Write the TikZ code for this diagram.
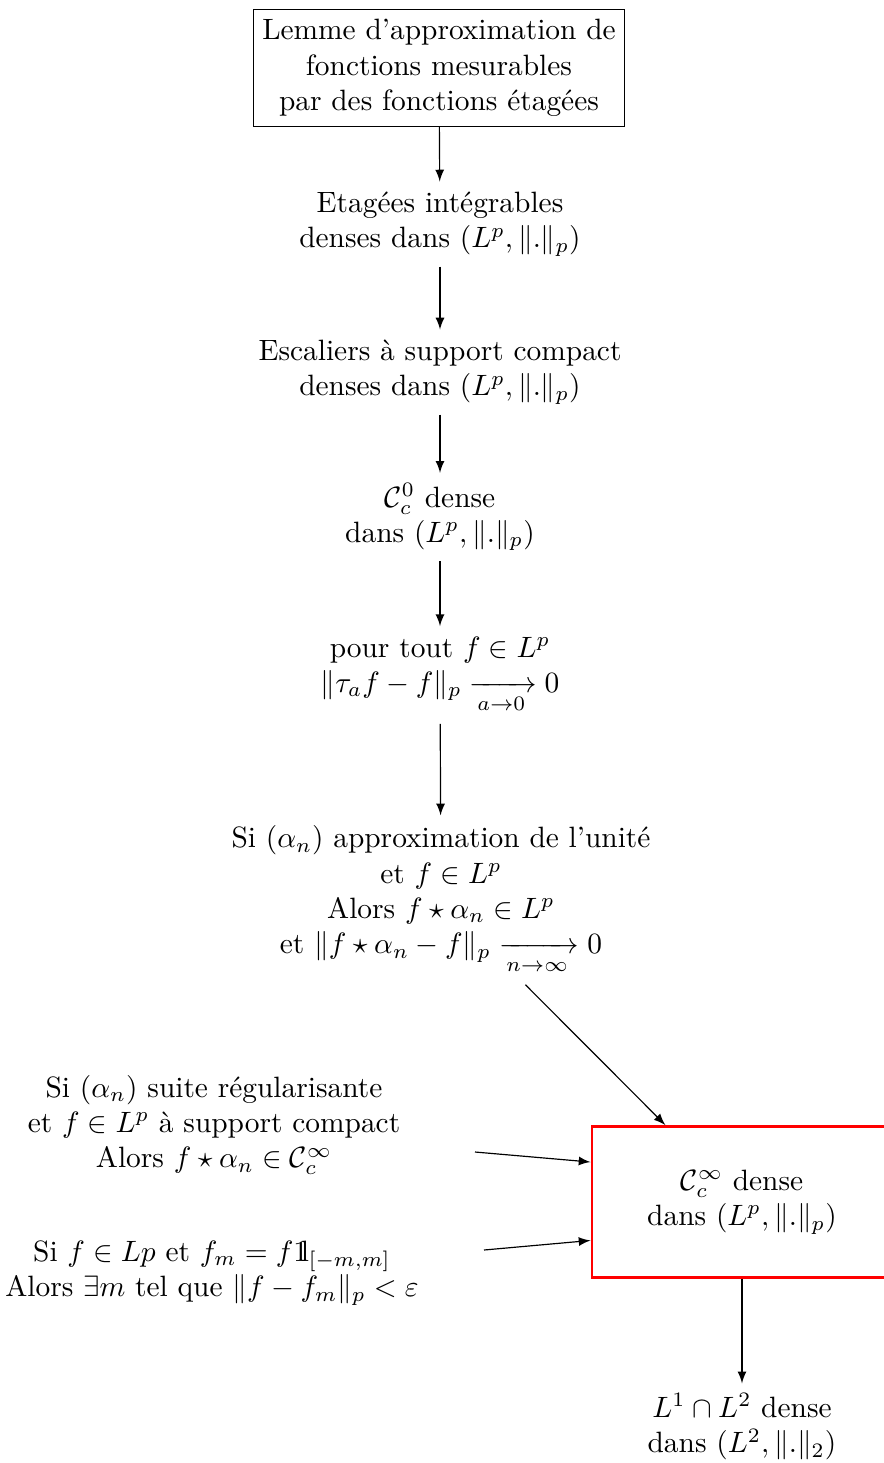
\documentclass[tikz,border=0pt]{standalone}
\usepackage{amsmath,amssymb}
\usetikzlibrary{calc}
\newcommand{\myindic}{\mathrm{1\hspace{-2.5pt}l}}
\begin{document}
\begin{tikzpicture}[x=0.34pt,y=-0.34pt,
  txt/.style={align=center},
  arr/.style={-latex,line width=0.4pt},
  redbox/.style={draw=red,line width=1pt,minimum width=102pt,minimum height=51.3pt,align=center}]
\useasboundingbox (0,0) rectangle (883,1463);
\node[txt,draw,inner xsep=3pt] (n1) at (439,68) {Lemme d'approximation de\\fonctions mesurables\\par des fonctions étagées};
\node[txt] (n2) at (440,224) {Etagées intégrables\\denses dans $(L^p,\|.\|_p)$};
\node[txt] (n3) at (440,372) {Escaliers à support compact\\denses dans $(L^p,\|.\|_p)$};
\node[txt] (n4) at (440,517) {$\mathcal{C}_c^0$ dense\\dans $(L^p,\|.\|_p)$};
\node[txt] (n5) at (440,675) {pour tout $f\in L^p$\\$\|\tau_a f-f\|_p\xrightarrow[a\to 0]{}0$};
\node[txt] (n6) at (441,900) {Si $(\alpha_n)$ approximation de l'unité\\et $f\in L^p$\\Alors $f\star\alpha_n\in L^p$\\et $\|f\star\alpha_n-f\|_p\xrightarrow[n\to\infty]{}0$};
\node[redbox] (red) at (742,1202) {$\mathcal{C}_c^\infty$ dense\\dans $(L^p,\|.\|_p)$};
\node[txt] (n7) at (214,1125) {Si $(\alpha_n)$ suite régularisante\\et $f\in L^p$ à support compact\\Alors $f\star\alpha_n\in\mathcal{C}_c^\infty$};
\node[txt] (n8) at (212,1273) {Si $f\in Lp$ et $f_m=f\myindic_{[-m,m]}$\\Alors $\exists m$ tel que $\|f-f_m\|_p<\varepsilon$};
\node[txt] (n9) at (742,1427) {$L^1\cap L^2$ dense\\dans $(L^2,\|.\|_2)$};
\coordinate (s7) at (475,1152);
\coordinate (s8) at (484,1250);
\draw[arr] (n1) -- (n2);
\draw[arr] (n2) -- (n3);
\draw[arr] (n3) -- (n4);
\draw[arr] (n4) -- (n5);
\draw[arr] (n5) -- (n6);
\draw[arr] (n6) -- (red);
\draw[arr] (s7) -- ($(red.north west)!0.24!(red.south west)$);
\draw[arr] (s8) -- ($(red.north west)!0.75!(red.south west)$);
\draw[arr] (red) -- (n9);
\end{tikzpicture}
\end{document}
